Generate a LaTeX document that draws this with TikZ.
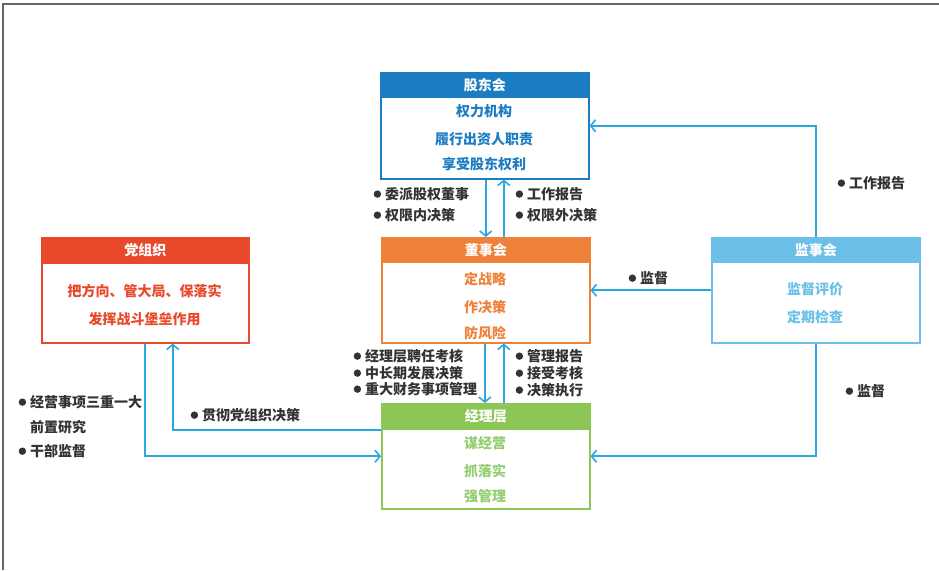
\documentclass[tikz,border=0pt]{standalone}
\usepackage{fontspec}
\setmainfont{Noto Sans CJK SC}
\usetikzlibrary{arrows.meta}
\definecolor{gdblue}{HTML}{1B7CC2}
\definecolor{dsorange}{HTML}{F0813A}
\definecolor{jlgreen}{HTML}{8CC657}
\definecolor{jltext}{HTML}{93CF72}
\definecolor{dzred}{HTML}{E8492A}
\definecolor{jsblue}{HTML}{6CC0E8}
\definecolor{lineblue}{HTML}{2AA7DF}
\definecolor{labgray}{HTML}{333333}
\definecolor{framegray}{HTML}{666666}
\newcommand{\bul}{\raisebox{1.5pt}{\tikz\fill[labgray] (0,0) circle (3.7pt);}\hspace{4pt}}
\begin{document}
\begin{tikzpicture}[x=1pt,y=-1pt,
  font=\fontsize{14}{16}\selectfont\bfseries,
  box/.style={draw=#1, line width=1.5pt, fill=white, inner sep=0pt, anchor=north west,
    minimum width=208pt, minimum height=105pt},
  head/.style={text=white},
  arr/.style={draw=lineblue, line width=1.6pt,
    -{Straight Barb[length=5pt,width=12pt,line width=1.6pt]}},
  lab/.style={text=labgray, anchor=west, inner sep=0pt}]
\useasboundingbox (0,0) rectangle (939,570);
\draw[framegray, line width=1.2pt] (3,570) -- (3,4) -- (939,4);

% boxes
\node[box=gdblue, minimum height=106pt] (gd) at (380,72) {};
\fill[gdblue] (gd.north west) rectangle ([yshift=-26pt]gd.north east);
\node[head] (gdh) at ([yshift=-13pt]gd.north) {股东会};
\node[text=gdblue] (gd1) at (484,111) {权力机构};
\node[text=gdblue] (gd2) at (484,139) {履行出资人职责};
\node[text=gdblue] (gd3) at (484,164) {享受股东权利};

\node[box=dsorange] (ds) at (381,237) {};
\fill[dsorange] (ds.north west) rectangle ([yshift=-26pt]ds.north east);
\node[head] (dsh) at ([yshift=-13pt]ds.north) {董事会};
\node[text=dsorange] (ds1) at (485,279) {定战略};
\node[text=dsorange] (ds2) at (485,307) {作决策};
\node[text=dsorange] (ds3) at (485,333) {防风险};

\node[box=jlgreen] (jl) at (381,403) {};
\fill[jlgreen] (jl.north west) rectangle ([yshift=-27pt]jl.north east);
\node[head] (jlh) at ([yshift=-13.5pt]jl.north) {经理层};
\node[text=jltext] (jl1) at (485,443) {谋经营};
\node[text=jltext] (jl2) at (485,471) {抓落实};
\node[text=jltext] (jl3) at (485,496) {强管理};

\node[box=dzred, minimum width=207pt] (dz) at (41,237) {};
\fill[dzred] (dz.north west) rectangle ([yshift=-27pt]dz.north east);
\node[head] (dzh) at ([yshift=-13.5pt]dz.north) {党组织};
\node[text=dzred] (dz1) at (144.5,291) {把方向、管大局、保落实};
\node[text=dzred] (dz2) at (144.5,319) {发挥战斗堡垒作用};

\node[box=jsblue] (js) at (711,237) {};
\fill[jsblue] (js.north west) rectangle ([yshift=-26pt]js.north east);
\node[head] (jsh) at ([yshift=-13pt]js.north) {监事会};
\node[text=jsblue] (js1) at (815,289) {监督评价};
\node[text=jsblue] (js2) at (815,317) {定期检查};

% connectors
\draw[arr] ([xshift=1pt]gd.south) -- (ds.north);
\draw[arr] ([xshift=18pt]ds.north) -- ([xshift=19pt]gd.south);
\draw[arr] ([xshift=-1pt]ds.south) -- ([xshift=-1pt]jl.north);
\draw[arr] ([xshift=18pt]jl.north) -- ([xshift=18pt]ds.south);
\draw[arr] (js.north) |- (gd.east);
\draw[arr] (js.west) -- (ds.east);
\draw[arr] (js.south) |- (jl.east);
\draw[arr] (dz.south) |- (jl.west);
\draw[arr] ([yshift=26.5pt]jl.west) -| ([xshift=27.5pt]dz.south);

% labels
\node[lab] (l1) at (373.5,194) {\bul 委派股权董事};
\node[lab] (l2) at (373.5,215) {\bul 权限内决策};
\node[lab] (l3) at (515.5,194) {\bul 工作报告};
\node[lab] (l4) at (515.5,215) {\bul 权限外决策};
\node[lab] (l5) at (353.5,356) {\bul 经理层聘任考核};
\node[lab] (l6) at (353.5,373) {\bul 中长期发展决策};
\node[lab] (l7) at (353.5,389) {\bul 重大财务事项管理};
\node[lab] (l8) at (515.5,356) {\bul 管理报告};
\node[lab] (l9) at (515.5,373) {\bul 接受考核};
\node[lab] (l10) at (515.5,390) {\bul 决策执行};
\node[lab] (l11) at (628.5,278) {\bul 监督};
\node[lab] (l12) at (837.5,183) {\bul 工作报告};
\node[lab] (l13) at (845.5,391) {\bul 监督};
\node[lab] (l14) at (18.5,402) {\bul 经营事项三重一大};
\node[lab] (l15) at (30,427) {前置研究};
\node[lab] (l16) at (18.5,451) {\bul 干部监督};
\node[lab] (l17) at (190.5,415) {\bul 贯彻党组织决策};
\end{tikzpicture}
\end{document}
